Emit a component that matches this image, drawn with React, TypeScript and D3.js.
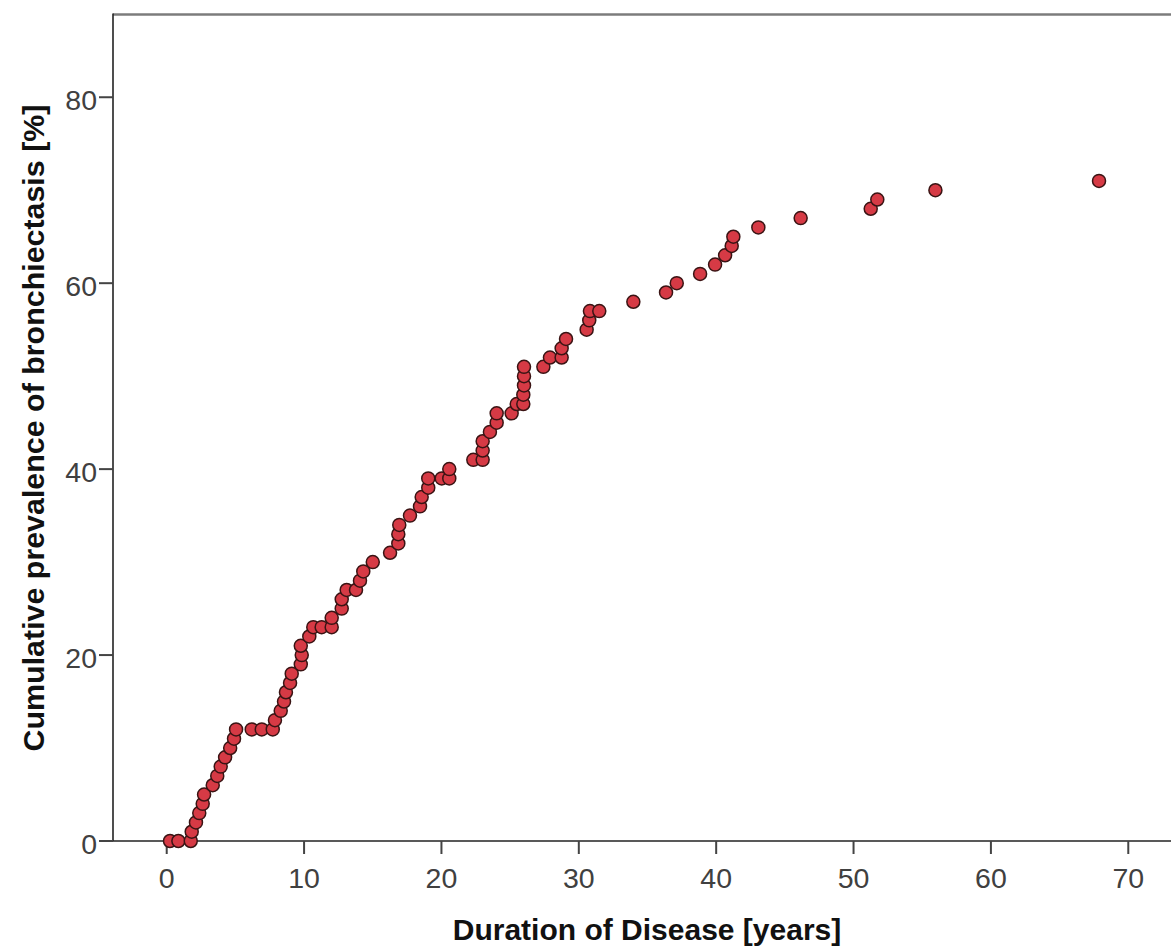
import React from "react";
import * as d3 from "d3";

// Duration of disease (years) for each patient point
const durationYears: number[] = [
  0.24, 0.85, 1.75,
  1.82, 2.13, 2.37, 2.62, 2.72, 3.35, 3.68, 3.93, 4.25, 4.62, 4.9,
  5.05, 6.19, 6.92, 7.72, 7.88, 8.3, 8.54, 8.68, 8.98, 9.1,
  9.76, 9.83, 9.76, 10.38, 10.67, 11.28, 12.01, 12.01, 12.74, 12.74,
  13.1, 13.78, 14.07, 14.31, 15.0, 16.26, 16.86, 16.86, 16.93, 17.71,
  18.44, 18.56, 19.04, 19.04, 20.02, 20.57, 20.57, 22.32, 23.0, 23.0,
  23.0, 23.53, 24.02, 24.02, 25.11, 25.48, 25.96, 25.96, 26.01, 26.01,
  26.01, 27.42, 27.9, 28.75, 28.75, 29.07, 30.57, 30.76, 30.81, 31.49,
  33.97, 36.35, 37.13, 38.83, 39.92, 40.65, 41.13, 41.25, 43.07, 46.15,
  51.25, 51.73, 55.96, 67.87,
];

// Cumulative prevalence (%) matching each duration
const prevalencePct: number[] = [
  0, 0, 0,
  1, 2, 3, 4, 5, 6, 7, 8, 9, 10, 11,
  12, 12, 12, 12, 13, 14, 15, 16, 17, 18,
  19, 20, 21, 22, 23, 23, 23, 24, 25, 26,
  27, 27, 28, 29, 30, 31, 32, 33, 34, 35,
  36, 37, 38, 39, 39, 39, 40, 41, 41, 42,
  43, 44, 45, 46, 46, 47, 47, 48, 49, 50,
  51, 51, 52, 52, 53, 54, 55, 56, 57, 57,
  58, 59, 60, 61, 62, 63, 64, 65, 66, 67,
  68, 69, 70, 71,
];

const xTicks: number[] = [0, 10, 20, 30, 40, 50, 60, 70];
const yTicks: number[] = [0, 20, 40, 60, 80];

const xTitle = "Duration of Disease [years]";
const yTitle = "Cumulative prevalence of bronchiectasis [%]";

export default function App() {
  const W = 1171;
  const H = 949;
  const left = 113;
  const right = 1171;
  const top = 14.5;
  const bottom = 841;

  const x = d3.scaleLinear().domain([-3.91, 73.11]).range([left, right]);
  const y = d3.scaleLinear().domain([0, 88.9]).range([bottom, top]);

  const font = "'Liberation Sans', Arial, sans-serif";
  const points = durationYears.map((d, i) => ({ d, p: prevalencePct[i] }));

  return (
    <svg
      width={W}
      height={H}
      style={{ position: "absolute", left: 0, top: 0, background: "#fff" }}
    >
      <rect x={0} y={0} width={W} height={H} fill="#fff" />
      {/* frame */}
      <line x1={left} x2={right} y1={top} y2={top} stroke="#7c7c7c" strokeWidth={2.5} />
      <line x1={left} x2={left} y1={top - 1} y2={bottom} stroke="#222" strokeWidth={1.6} />
      <line x1={left} x2={right} y1={bottom} y2={bottom} stroke="#222" strokeWidth={1.6} />

      {/* x ticks */}
      {xTicks.map((t) => (
        <g key={"xt" + t}>
          <line x1={x(t)} x2={x(t)} y1={bottom} y2={bottom + 13} stroke="#444" strokeWidth={2} />
          <text
            x={x(t)}
            y={888}
            textAnchor="middle"
            fontFamily={font}
            fontSize={28.5}
            fill="#404040"
          >
            {t}
          </text>
        </g>
      ))}

      {/* y ticks */}
      {yTicks.map((t) => (
        <g key={"yt" + t}>
          <line x1={left - 14} x2={left} y1={y(t)} y2={y(t)} stroke="#444" strokeWidth={2} />
          <text
            x={left - 16}
            y={y(t) + 13}
            textAnchor="end"
            fontFamily={font}
            fontSize={28.5}
            fill="#404040"
          >
            {t}
          </text>
        </g>
      ))}

      {/* points */}
      {points.map((pt, i) => (
        <circle
          key={i}
          cx={x(pt.d)}
          cy={y(pt.p)}
          r={6.5}
          fill="#d63a45"
          stroke="#3a1414"
          strokeWidth={1.5}
        />
      ))}

      {/* titles */}
      <text
        x={647}
        y={940}
        textAnchor="middle"
        fontFamily={font}
        fontSize={30}
        fontWeight="bold"
        fill="#111"
      >
        {xTitle}
      </text>
      <text
        transform={`translate(44, 428) rotate(-90)`}
        textAnchor="middle"
        fontFamily={font}
        fontSize={30.4}
        fontWeight="bold"
        fill="#111"
      >
        {yTitle}
      </text>
    </svg>
  );
}
